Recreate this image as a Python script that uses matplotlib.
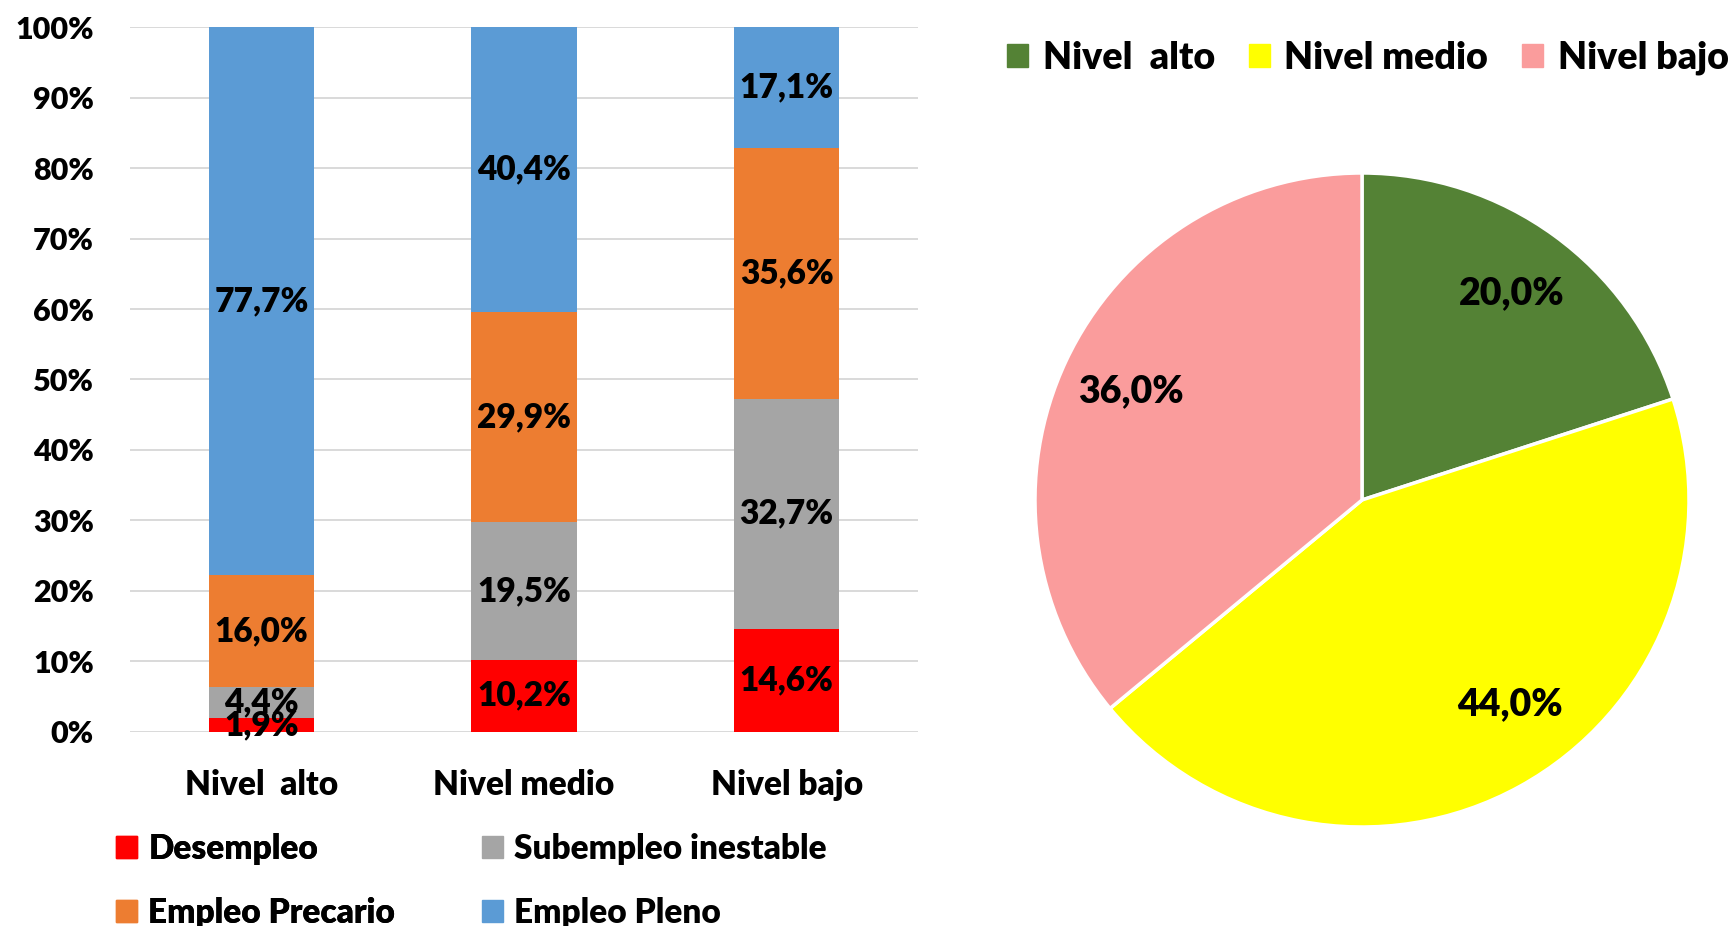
import matplotlib
matplotlib.use("Agg")
import matplotlib.pyplot as plt
from matplotlib.patches import Patch
import numpy as np

plt.rcParams['font.family'] = ['Lato', 'DejaVu Sans']
WEIGHT = 'heavy'
plt.rcParams['font.weight'] = WEIGHT

# ---- data ----
categories = ["Nivel  alto", "Nivel medio", "Nivel bajo"]
desempleo = [1.9, 10.2, 14.6]
subempleo = [4.4, 19.5, 32.7]
precario = [16.0, 29.9, 35.6]
pleno = [77.7, 40.4, 17.1]
series_names = ["Desempleo", "Subempleo inestable", "Empleo Precario", "Empleo Pleno"]
series_colors = ["#FF0000", "#A5A5A5", "#ED7D31", "#5B9BD5"]

pie_labels = ["Nivel  alto", "Nivel medio", "Nivel bajo"]
pie_values = [20.0, 44.0, 36.0]
pie_colors = ["#548235", "#FFFF00", "#FA9C9C"]

W, H = 1730, 926
fig = plt.figure(figsize=(W / 100, H / 100), dpi=100)

def fmt(v):
    return f"{v:.1f}".replace('.', ',') + '%'

# ---- stacked bars ----
axb = fig.add_axes([130 / W, (H - 731.7) / H, (918 - 130) / W, (731.7 - 27.3) / H])
x = np.arange(len(categories))
series = [desempleo, subempleo, precario, pleno]
bottom = np.zeros(len(categories))
handles = []
for vals, name, col in zip(series, series_names, series_colors):
    v = np.array(vals) / 100.0
    bars = axb.bar(x, v, 0.4, bottom=bottom, color=col, label=name, zorder=3)
    axb.bar_label(bars, labels=[fmt(a) for a in vals], label_type='center',
                  fontsize=24, fontweight=WEIGHT, color='black', zorder=4)
    bottom += v
    handles.append(Patch(color=col, label=name))

axb.set_xlim(-0.5, 2.5)
axb.set_ylim(0, 1)
ticks = np.arange(0, 1.01, 0.1)
axb.set_yticks(ticks)
axb.set_yticklabels([f"{int(round(t * 100))}%" for t in ticks])
axb.set_xticks(x)
axb.set_xticklabels(categories)
axb.tick_params(axis='y', length=0, pad=26, labelsize=22)
axb.tick_params(axis='x', length=0, pad=27, labelsize=24)
for s in axb.spines.values():
    s.set_visible(False)
axb.grid(axis='y', color='#D9D9D9', linewidth=1.4, zorder=0)
axb.set_axisbelow(True)

# bottom legend in two columns
common = dict(loc='upper left', frameon=False, fontsize=24, handlelength=0.62,
              handleheight=0.62, handletextpad=0.35, labelspacing=0.95,
              borderpad=0, borderaxespad=0)
leg1 = fig.legend(handles=[handles[0], handles[2]],
                  bbox_to_anchor=(116 / W, 1 - 833 / H), **common)
leg2 = fig.legend(handles=[handles[1], handles[3]],
                  bbox_to_anchor=(482 / W, 1 - 833 / H), **common)
fig.add_artist(leg1)

# ---- pie ----
R = 327
cx, cy = 1362, 500
axp = fig.add_axes([(cx - R) / W, (H - cy - R) / H, 2 * R / W, 2 * R / H])
wedges, texts, autotexts = axp.pie(
    pie_values, colors=pie_colors, startangle=90, counterclock=False,
    autopct=lambda p: fmt(p), pctdistance=0.78,
    wedgeprops=dict(edgecolor='white', linewidth=2.5),
    textprops=dict(fontsize=27, fontweight=WEIGHT, color='black'))
# best-fit style shift of the middle label (angle measured clockwise from top)
ang = np.deg2rad(144)
autotexts[1].set_position((0.77 * np.sin(ang), 0.77 * np.cos(ang)))
axp.set_xlim(-1, 1)
axp.set_ylim(-1, 1)
axp.set_aspect('equal')

pie_handles = [Patch(color=c, label=l) for c, l in zip(pie_colors, pie_labels)]
fig.legend(handles=pie_handles, loc='center', bbox_to_anchor=(1368 / W, 1 - 58 / H),
           ncol=3, frameon=False, fontsize=27, handlelength=0.55, handleheight=0.55,
           handletextpad=0.4, columnspacing=0.9, borderpad=0, borderaxespad=0)

fig.savefig("out.png", dpi=100, facecolor='white')
